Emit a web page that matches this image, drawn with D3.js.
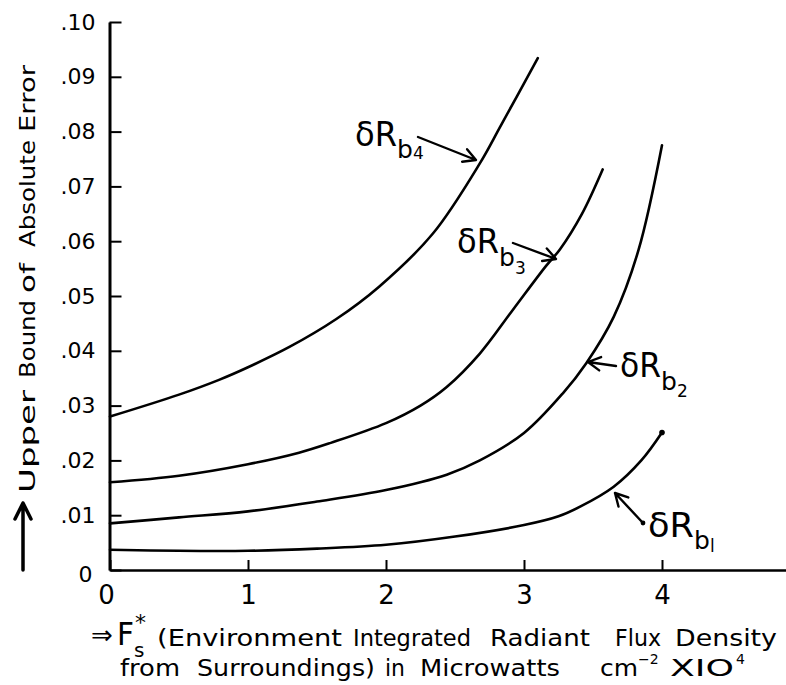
<!DOCTYPE html>
<html>
<head>
<meta charset="utf-8">
<script src="https://cdn.jsdelivr.net/npm/d3@7/dist/d3.min.js"></script>
<style>
  html, body { margin: 0; padding: 0; background: #fff; }
  svg { display: block; }
  text { font-family: "DejaVu Sans", "Liberation Sans", sans-serif; fill: #000; }
</style>
</head>
<body>
<svg id="chart" width="786" height="685"></svg>
<script>
// ---- data ----
const xTickValues = [0, 1, 2, 3, 4];
const xTickLabels = ["0", "1", "2", "3", "4"];
const yTickValues = [0, 0.01, 0.02, 0.03, 0.04, 0.05, 0.06, 0.07, 0.08, 0.09, 0.10];
const yTickLabels = ["0", ".01", ".02", ".03", ".04", ".05", ".06", ".07", ".08", ".09", ".10"];

const seriesNames = ["1", "2", "3", "4"];

const rb1X = [0, 0.5, 1, 1.5, 2, 2.5, 3, 3.25, 3.41, 3.65, 3.85, 4.0];
const rb1Y = [0.0037, 0.0035, 0.0035, 0.0039, 0.0046, 0.0061, 0.0082, 0.0098, 0.0116, 0.0152, 0.0200, 0.0251];

const rb2X = [0, 0.5, 1, 1.5, 2, 2.44, 2.68, 3, 3.28, 3.45, 3.65, 3.83, 4.0];
const rb2Y = [0.0085, 0.0096, 0.0107, 0.0125, 0.0146, 0.0174, 0.0200, 0.0250, 0.0322, 0.0377, 0.0462, 0.0584, 0.0775];

const rb3X = [0, 0.5, 1, 1.37, 1.6, 2, 2.25, 2.44, 2.68, 2.92, 3.16, 3.26, 3.42, 3.57];
const rb3Y = [0.016, 0.0172, 0.0193, 0.0214, 0.0232, 0.0268, 0.030, 0.0334, 0.0395, 0.0475, 0.0555, 0.0585, 0.065, 0.0731];

const rb4X = [0, 0.5, 0.79, 1, 1.3, 1.64, 1.95, 2.34, 2.68, 2.83, 3.10];
const rb4Y = [0.028, 0.032, 0.0347, 0.037, 0.0407, 0.0458, 0.0517, 0.0614, 0.0742, 0.0810, 0.0934];

// ---- setup ----
const svg = d3.select("#chart");
svg.append("rect").attr("width", 786).attr("height", 685).attr("fill", "#fff");

const x = d3.scaleLinear().domain([0, 4.9]).range([110, 786.2]);
const y = d3.scaleLinear().domain([0, 0.10]).range([570, 22]);

// ---- axes ----
const yAxis = d3.axisLeft(y)
  .tickValues(yTickValues)
  .tickFormat((d, i) => yTickLabels[i])
  .tickSizeInner(-12).tickSizeOuter(0).tickPadding(14);
const gy = svg.append("g").attr("transform", `translate(${x(0) - 0.5},0)`).call(yAxis);
gy.select(".domain").attr("stroke", "#000").attr("stroke-width", 3);
gy.selectAll(".tick line").attr("stroke", "#000").attr("stroke-width", 2);
gy.selectAll(".tick text").attr("font-size", 22).attr("font-family", "DejaVu Sans, sans-serif");
gy.selectAll(".tick text").filter((d) => d === 0).attr("x", -17).attr("dy", "0.52em");

const xAxis = d3.axisBottom(x)
  .tickValues(xTickValues)
  .tickFormat((d, i) => xTickLabels[i])
  .tickSizeInner(-10).tickSizeOuter(0).tickPadding(16);
const gx = svg.append("g").attr("transform", `translate(0,${y(0)})`).call(xAxis);
gx.select(".domain").attr("stroke", "#000").attr("stroke-width", 2.6);
gx.selectAll(".tick line").attr("stroke", "#000").attr("stroke-width", 2);
gx.selectAll(".tick text").attr("font-size", 26).attr("font-family", "DejaVu Sans, sans-serif");
gx.selectAll(".tick text").filter((d) => d === 0).attr("dx", -4);

// ---- curves ----
const line = d3.line().x(d => x(d[0])).y(d => y(d[1])).curve(d3.curveCatmullRom.alpha(0.5));
const allSeries = [
  d3.zip(rb1X, rb1Y),
  d3.zip(rb2X, rb2Y),
  d3.zip(rb3X, rb3Y),
  d3.zip(rb4X, rb4Y)
];
svg.append("g").selectAll("path").data(allSeries).join("path")
  .attr("d", line)
  .attr("fill", "none")
  .attr("stroke", "#000")
  .attr("stroke-width", 2.6)
  .attr("stroke-linecap", "round");

// end dot on lowest curve
svg.append("circle")
  .attr("cx", x(rb1X[rb1X.length - 1])).attr("cy", y(rb1Y[rb1Y.length - 1]))
  .attr("r", 2.8).attr("fill", "#000");

// ---- curve labels with arrows ----
function arrowPath(x1, y1, x2, y2, len, ang) {
  const a = Math.atan2(y2 - y1, x2 - x1);
  const ax1 = x2 - len * Math.cos(a - ang), ay1 = y2 - len * Math.sin(a - ang);
  const ax2 = x2 - len * Math.cos(a + ang), ay2 = y2 - len * Math.sin(a + ang);
  return `M${x1},${y1}L${x2},${y2}M${ax1},${ay1}L${x2},${y2}L${ax2},${ay2}`;
}
const ann = svg.append("g");
const labels = [
  { n: seriesNames[3], lx: 355, lw: 42, ly: 146, bdy: 12, sdy: 1, a: [418, 137, 476, 160] },
  { n: seriesNames[2], lx: 457, lw: 42, ly: 253, bdy: 13, sdy: 8, a: [513, 243, 556, 259] },
  { n: seriesNames[1], lx: 620, lw: 41, ly: 377, bdy: 13, sdy: 7, a: [616, 366, 588, 362] },
  { n: seriesNames[0], lx: 648, lw: 46, ly: 537, bdy: 12, sdy: 3, a: [643, 523, 615, 493] }
];
labels.forEach(l => {
  const t = ann.append("text").attr("x", l.lx).attr("y", l.ly).attr("font-size", 33);
  t.append("tspan").attr("textLength", l.lw).attr("lengthAdjust", "spacingAndGlyphs").text("δR");
  t.append("tspan").attr("x", l.lx + l.lw).attr("dy", l.bdy).attr("font-size", 25).text("b");
  t.append("tspan").attr("dx", 0).attr("dy", l.sdy).attr("font-size", 17).text(l.n === "1" ? "l" : l.n);
  ann.append("path").attr("d", arrowPath(...l.a, 14, 0.5))
    .attr("fill", "none").attr("stroke", "#000").attr("stroke-width", 2.4)
    .attr("stroke-linecap", "round").attr("stroke-linejoin", "round");
});
// dot at tail of lowest arrow
ann.append("circle").attr("cx", 643).attr("cy", 523).attr("r", 2.4).attr("fill", "#000");

// ---- y axis title (rotated) ----
svg.append("path").attr("d", "M23,570L23,503M15,519L23,503L31,519")
  .attr("fill", "none").attr("stroke", "#000").attr("stroke-width", 3.5)
  .attr("stroke-linecap", "round").attr("stroke-linejoin", "round");
const yWords = [
  { t: "Upper", y0: 493, len: 103 },
  { t: "Bound", y0: 378, len: 78 },
  { t: "of", y0: 293, len: 30 },
  { t: "Absolute", y0: 247, len: 107 },
  { t: "Error", y0: 132, len: 67 }
];
yWords.forEach(w => {
  svg.append("text")
    .attr("transform", `translate(35,${w.y0}) rotate(-90)`)
    .attr("font-size", 22)
    .attr("textLength", w.len).attr("lengthAdjust", "spacingAndGlyphs")
    .text(w.t);
});

// ---- x axis title ----
const xt = svg.append("g");
xt.append("text").attr("x", 91).attr("y", 644).attr("font-size", 26).text("⇒");
const fs = xt.append("text").attr("x", 117).attr("y", 645).attr("font-size", 32);
fs.append("tspan").attr("textLength", 17).attr("lengthAdjust", "spacingAndGlyphs").text("F");
fs.append("tspan").attr("x", 134).attr("dy", 12).attr("font-size", 20).text("s");
fs.append("tspan").attr("x", 135).attr("dy", -27).attr("font-size", 22).text("*");
const line1 = [
  { t: "(Environment", x0: 157, len: 185 },
  { t: "Integrated", x0: 353, len: 118 },
  { t: "Radiant", x0: 490, len: 100 },
  { t: "Flux", x0: 615, len: 46 },
  { t: "Density", x0: 675, len: 102 }
];
line1.forEach(w => xt.append("text").attr("x", w.x0).attr("y", 646).attr("font-size", 23)
  .attr("textLength", w.len).attr("lengthAdjust", "spacingAndGlyphs").text(w.t));
const line2 = [
  { t: "from", x0: 120, len: 60 },
  { t: "Surroundings)", x0: 197, len: 178 },
  { t: "in", x0: 385, len: 20 },
  { t: "Microwatts", x0: 420, len: 140 }
];
line2.forEach(w => xt.append("text").attr("x", w.x0).attr("y", 676).attr("font-size", 23)
  .attr("textLength", w.len).attr("lengthAdjust", "spacingAndGlyphs").text(w.t));
const cm = xt.append("text").attr("x", 600).attr("y", 676).attr("font-size", 23);
cm.append("tspan").attr("textLength", 38).attr("lengthAdjust", "spacingAndGlyphs").text("cm");
cm.append("tspan").attr("dy", -12).attr("font-size", 14).text("−2");
const xio = xt.append("text").attr("x", 670).attr("y", 676).attr("font-size", 23);
xio.append("tspan").attr("textLength", 64).attr("lengthAdjust", "spacingAndGlyphs").text("XIO");
xio.append("tspan").attr("dx", 2).attr("dy", -12).attr("font-size", 14).text("4");
</script>
</body>
</html>
